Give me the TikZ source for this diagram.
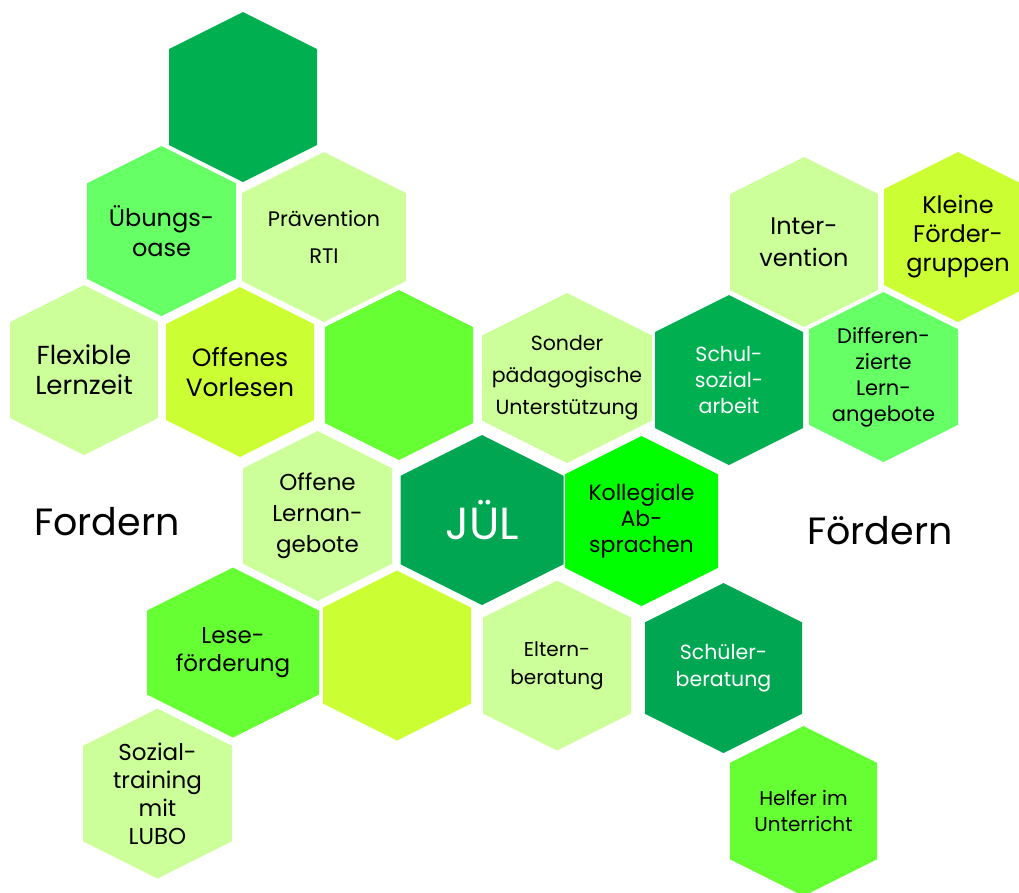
\documentclass[tikz,border=0pt]{standalone}
\usepackage{fontspec}
\setmainfont{Poppins}
\usetikzlibrary{positioning}

\definecolor{dunkelgruen}{HTML}{00B050}
\definecolor{juelgruen}{HTML}{00A651}
\definecolor{hellgruen}{HTML}{CCFF99}
\definecolor{gelbgruen}{HTML}{CCFF33}
\definecolor{mittelgruen}{HTML}{66FF66}
\definecolor{grasgruen}{HTML}{66FF33}
\definecolor{knallgruen}{HTML}{00FF00}

% Wabe: [Textstil]{Name}{x}{y}{halbe Breite}{Farbe}{Text}
\newcommand{\wabe}[7][]{%
  \fill[#6] ({#3},{#4-85}) -- ({#3+#5},{#4-85+#5/2}) -- ({#3+#5},{#4+85-#5/2})
    -- ({#3},{#4+85}) -- ({#3-#5},{#4+85-#5/2}) -- ({#3-#5},{#4-85+#5/2}) -- cycle;
  \node[wabentext,#1] (#2) at (#3,#4) {#7};
}

\tikzset{
  wabentext/.style={align=center, text=black, inner sep=0pt},
  gross/.style={font=\fontsize{24}{30}\selectfont},
  klein/.style={font=\fontsize{20}{26}\selectfont},
  weiss/.style={text=white},
  seite/.style={anchor=base, font=\fontsize{38}{40}\selectfont}
}

\begin{document}
\begin{tikzpicture}[x=1pt, y=-1pt]
\useasboundingbox (0,0) rectangle (1019,892);

% linke Seite
\wabe{oben}{243}{97}{74}{dunkelgruen}{}
\wabe[gross]{uebung}{161.5}{231}{74.5}{mittelgruen}{Übungs-\\oase}
\wabe[font=\fontsize{21}{37}\selectfont]{praevention}{324}{237}{82}{hellgruen}{Prävention\\RTI}
\wabe[font=\fontsize{26}{30}\selectfont]{flexibel}{84}{370}{74}{hellgruen}{Flexible\\Lernzeit}
\wabe[font=\fontsize{25}{30}\selectfont]{vorlesen}{240}{372}{74}{gelbgruen}{Offenes\\Vorlesen}
\wabe{leer1}{399}{375}{74}{grasgruen}{}
\wabe[font=\fontsize{23}{31}\selectfont]{offene}{317.5}{516}{74.5}{hellgruen}{Offene\\Lernan-\\gebote}
\wabe[font=\fontsize{23}{28}\selectfont]{lese}{233}{652.5}{86}{grasgruen}{Lese-\\förderung}
\wabe{leer2}{397}{655.5}{74}{gelbgruen}{}
\wabe[font=\fontsize{23}{28}\selectfont]{sozial}{157.5}{793.5}{74.5}{hellgruen}{Sozial-\\training\\mit\\LUBO}

% Mitte
\wabe[weiss, font=\fontsize{45}{48}\selectfont]{juel}{482}{520}{81.5}{juelgruen}{JÜL}
\wabe[font=\fontsize{20.5}{32}\selectfont]{sonder}{567}{378}{85}{hellgruen}{Sonder\\pädagogische\\Unterstützung}
\wabe[font=\fontsize{22}{26}\selectfont]{kollegial}{641.5}{521}{76.5}{knallgruen}{Kollegiale\\Ab-\\sprachen}
\wabe[font=\fontsize{20}{28}\selectfont]{eltern}{557}{665.5}{74}{hellgruen}{Eltern-\\beratung}

% rechte Seite
\wabe[font=\fontsize{24}{32}\selectfont]{intervention}{804}{242}{74}{hellgruen}{Inter-\\vention}
\wabe[font=\fontsize{24}{29}\selectfont]{kleine}{958}{237}{74}{gelbgruen}{Kleine\\Förder-\\gruppen}
\wabe[weiss, font=\fontsize{20.5}{26}\selectfont]{schulsozial}{729}{380}{74}{dunkelgruen}{Schul-\\sozial-\\arbeit}
\wabe[font=\fontsize{21}{26}\selectfont]{differenziert}{883.5}{377}{74.5}{mittelgruen}{Differen-\\zierte\\Lern-\\angebote}
\wabe[weiss, font=\fontsize{20.5}{27}\selectfont]{schueler}{723.5}{668}{78.5}{juelgruen}{Schüler-\\beratung}
\wabe[klein]{helfer}{803.5}{811}{73.5}{grasgruen}{Helfer im\\Unterricht}

\node[seite] (fordern) at (107,535) {Fordern};
\node[seite] (foerdern) at (880,544) {Fördern};

\end{tikzpicture}
\end{document}
